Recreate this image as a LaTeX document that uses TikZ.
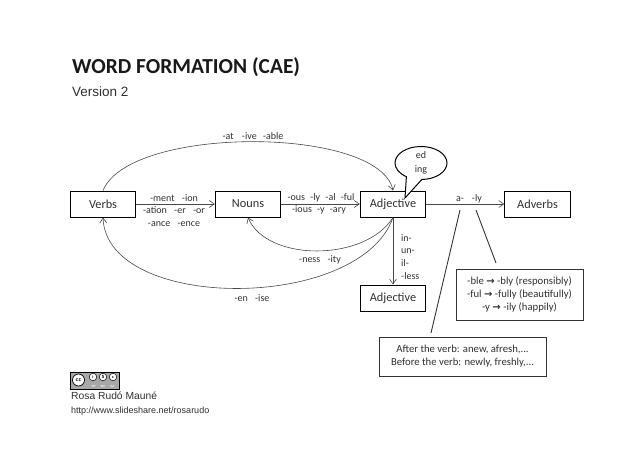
\documentclass[tikz,border=0pt]{standalone}
\usepackage{fontspec}
\setmainfont{Carlito}
\newfontfamily\arialfont{Liberation Sans}
\newfontfamily\arrowfont{DejaVu Sans}
\usetikzlibrary{positioning, arrows.meta, shapes.callouts}
\definecolor{cInk}{HTML}{303030}
\definecolor{cLine}{HTML}{484848}
\definecolor{cBadge}{HTML}{A8A8A8}
\newcommand{\toarrow}{{\arrowfont\bfseries\fontsize{10}{10}\selectfont →}}

\begin{document}
\begin{tikzpicture}[
    x=1pt, y=-1pt,
    >={Straight Barb[length=5pt,width=7pt]},
    % --- Node styles ---
    wordbox/.style={
        draw=black, line width=1pt, minimum width=65.5pt, minimum height=26pt,
        inner sep=0pt, font=\fontsize{12.3}{14}\selectfont, text=cInk
    },
    notebox/.style={
        draw=black!80, line width=1pt, inner sep=0pt, align=center,
        font=\fontsize{10.7}{13}\selectfont, text=cInk
    },
    % --- Arrow styles ---
    arr/.style={->, line width=0.6pt, draw=cLine},
    pointer/.style={line width=0.9pt, draw=black!80},
    % --- Annotation styles ---
    suffix/.style={font=\fontsize{10}{12.5}\selectfont, text=cInk, align=center, inner sep=0pt},
    ccring/.style={
        draw=black, fill=white, circle, line width=0.5pt, minimum size=7.5pt, inner sep=0pt,
        font=\sffamily\bfseries\fontsize{4.5}{5}\selectfont
    },
]
\useasboundingbox (0,0) rectangle (638,452);

% =============================================
% TITLE
% =============================================
\node[anchor=west, inner sep=0pt, font=\fontsize{21.4}{23}\selectfont\bfseries, text=black!90] (title) at (72,67) {WORD FORMATION (CAE)};
\node[anchor=west, inner sep=0pt, font=\arialfont\fontsize{13.5}{15}\selectfont, text=cInk] (version) at (72,92) {Version 2};

% =============================================
% MAIN ROW
% =============================================
\node[wordbox] (verbs) at (103,204) {Verbs};
\node[wordbox] (nouns) at (248,204) {Nouns};
\node[wordbox] (adj) at (393,204) {Adjective};
\node[wordbox] (adv) at (537.5,204) {Adverbs};
\node[wordbox] (adjb) at (393,298) {Adjective};

% Notes
\node[notebox, minimum width=127pt, minimum height=51pt] (spell) at (519.5,294.5) {
    -ble \toarrow{} -bly (responsibly)\\
    -ful \toarrow{} -fully (beautifully)\\
    -y \toarrow{} -ily (happily)
};
\node[notebox, minimum width=167pt, minimum height=39pt] (place) at (462.5,356.5) {
    After the verb: anew, afresh,...\\
    Before the verb: newly, freshly,...
};

% Speech bubble
\node[ellipse callout, draw=black, line width=1pt, fill=white, minimum width=52pt, minimum height=33pt,
    inner sep=0pt, align=center, callout absolute pointer={(405,198)}, callout pointer arc=36,
    font=\fontsize{10}{14}\selectfont, text=cInk] (bubble) at (421,163) {ed\\ing};

% =============================================
% ARROWS
% =============================================
\draw[arr] (verbs) -- (nouns);
\draw[arr] (nouns) -- (adj);
\draw[arr] (adj) -- (adv);
\draw[arr] (adj) -- (adjb);

% Curved routes round the row
\draw[arr] (verbs.north) .. controls (130,125) and (379,126) .. (adj.north);
\draw[arr] (adj.south) .. controls (365,262) and (267,262) .. (nouns.south);
\draw[arr] (adj.south) .. controls (360,312) and (107,312) .. (verbs.south);

% Pointers up to the a- -ly labels
\coordinate (afoot) at (460,210);
\coordinate (lyfoot) at (476,210);
\coordinate (placetop) at (431,333);
\coordinate (spelltop) at (496,263);
\draw[pointer] (afoot) -- (placetop);
\draw[pointer] (lyfoot) -- (spelltop);

% =============================================
% SUFFIX LABELS
% =============================================
\node[suffix] (lbat) at (253,136) {-at\hspace{6pt} -ive\hspace{4pt} -able};
\node[suffix] (lbment) at (174,210.5) {-ment\hspace{5pt} -ion\\-ation\hspace{5pt} -er\hspace{5pt} -or\\-ance\hspace{5pt} -ence};
\node[suffix, anchor=south] (lbous) at (321,202.5) {-ous\hspace{3pt} -ly\hspace{3pt} -al\hspace{3pt} -ful};
\node[suffix, anchor=north] (lbious) at (319,205) {-ious\hspace{3pt} -y\hspace{3pt} -ary};
\node[suffix] (lbness) at (320,260) {-ness\hspace{5pt} -ity};
\node[suffix] (lben) at (252,298) {-en\hspace{5pt} -ise};
\node[suffix, align=left, anchor=north west, font=\fontsize{10}{12.8}\selectfont] (lbin) at (401,234) {in-\\un-\\il-\\-less};
\node[suffix, anchor=south] (lba) at (469,203) {a-\hspace{8pt}-ly};

% =============================================
% LICENCE BADGE AND CREDIT
% =============================================
\node[draw=black, fill=cBadge, line width=0.6pt, minimum width=49pt, minimum height=17pt, inner sep=0pt] (badge) at (94.5,380.5) {};
\node[ccring, line width=0.7pt, minimum size=12pt, font=\sffamily\bfseries\fontsize{6}{6}\selectfont] (cc) at (78.5,380) {cc};
\node[ccring] (ccby) at (93,377) {i};
\node[ccring] (ccnc) at (103,377) {\$};
\node[ccring] (ccsa) at (113,377) {c};
\node[inner sep=0pt, font=\sffamily\bfseries\fontsize{3}{3}\selectfont, text=white] (lbcc) at (103,386) {BY\hspace{5pt}NC\hspace{5pt}SA};

\node[anchor=west, inner sep=0pt, font=\arialfont\fontsize{10.3}{12}\selectfont, text=cInk] (author) at (71,396) {Rosa Rudó Mauné};
\node[anchor=west, inner sep=0pt, font=\arialfont\fontsize{9}{10}\selectfont, text=cInk] (site) at (71,411) {http://www.slideshare.net/rosarudo};

\end{tikzpicture}
\end{document}
